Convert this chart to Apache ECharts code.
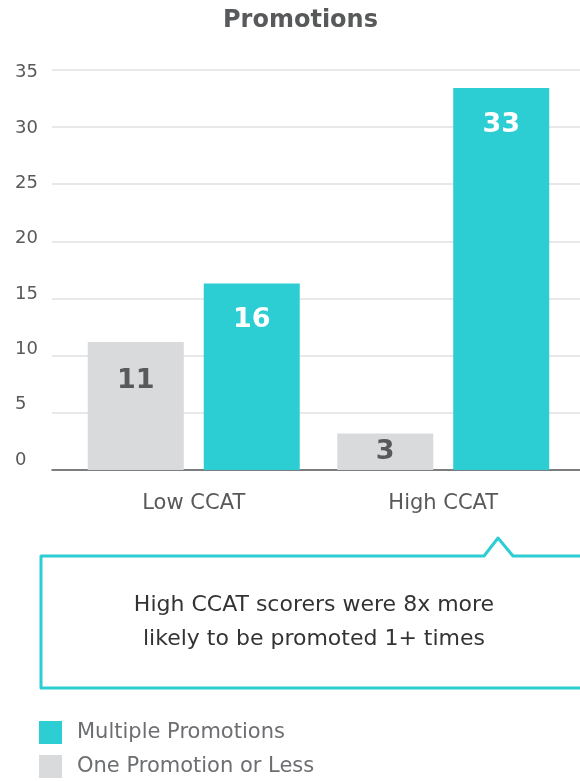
<!DOCTYPE html>
<html>
<head>
<meta charset="utf-8">
<script src="https://cdn.jsdelivr.net/npm/echarts@6/dist/echarts.min.js"></script>
<style>
html,body{margin:0;padding:0;background:#fff;}
#c{width:580px;height:781px;}
</style>
</head>
<body>
<div id="c"></div>
<script>
var categories = ['Low CCAT', 'High CCAT'];
var onePromotion = [11.2, 3.2];
var multiplePromotions = [16.3, 33.4];
var yTicks = [0, 5, 10, 15, 20, 25, 30, 35];
var seriesNames = ['One Promotion or Less', 'Multiple Promotions'];
var noteLines = ['High CCAT scorers were 8x more', 'likely to be promoted 1+ times'];

var FONT = '"DejaVu Sans", sans-serif';
var TEAL = '#2ccdd3';
var GRAY = '#d9dadb';

var chart = echarts.init(document.getElementById('c'), null, {renderer: 'canvas'});

function labelData(vals) {
  return vals.map(function (v) {
    var item = {value: v};
    if (v < 6) item.label = {position: 'inside', distance: 0};
    return item;
  });
}

var option = {
  animation: false,
  backgroundColor: '#fff',
  title: {
    text: 'Promotions',
    left: 223,
    top: 9,
    padding: 0,
    textStyle: {fontFamily: FONT, fontSize: 24, fontWeight: 'bold', color: '#58595b'}
  },
  legend: {
    orient: 'vertical',
    left: 39,
    top: 721,
    padding: 0,
    height: 60,
    itemWidth: 23,
    itemHeight: 23,
    itemGap: 11,
    icon: 'rect',
    data: ['Multiple Promotions', 'One Promotion or Less'],
    textStyle: {fontFamily: FONT, fontSize: 21, color: '#6d6e71', padding: [4, 0, 0, 10]}
  },
  grid: [
    {left: 69, width: 499, top: 69.7, height: 400.3},
    {left: 52, right: 0, top: 69.7, height: 400.3},
    {left: 15, width: 1, top: 72.5, height: 387.5}
  ],
  xAxis: [
    {
      gridIndex: 0, type: 'category', data: categories,
      axisLine: {show: false}, axisTick: {show: false},
      axisLabel: {fontFamily: FONT, fontSize: 21, color: '#58595b', margin: 23}
    },
    {
      gridIndex: 1, type: 'value', min: 0, max: 1,
      axisLine: {show: true, onZero: false, lineStyle: {color: '#58595b', width: 1.5}},
      axisTick: {show: false}, axisLabel: {show: false}, splitLine: {show: false}
    },
    {
      gridIndex: 2, type: 'value', show: false
    }
  ],
  yAxis: [
    {
      gridIndex: 0, type: 'value', min: 0, max: 35, interval: 5,
      axisLabel: {show: false}, axisLine: {show: false}, axisTick: {show: false}, splitLine: {show: false}
    },
    {
      gridIndex: 1, type: 'value', min: 0, max: 35, interval: 5,
      axisLabel: {show: false}, axisLine: {show: false}, axisTick: {show: false},
      splitLine: {show: true, lineStyle: {color: '#e1e1e1', width: 1.5}}
    },
    {
      gridIndex: 2, type: 'category', data: yTicks.map(String),
      boundaryGap: false,
      axisLine: {show: false}, axisTick: {show: false}, splitLine: {show: false},
      axisLabel: {fontFamily: FONT, fontSize: 18, color: '#58595b', align: 'left', margin: 0, interval: 0}
    }
  ],
  series: [
    {
      name: seriesNames[0], type: 'bar', xAxisIndex: 0, yAxisIndex: 0,
      data: labelData(onePromotion),
      barWidth: 96, barGap: '20.8%',
      itemStyle: {color: GRAY},
      label: {
        show: true, position: 'insideTop', distance: 26,
        fontFamily: FONT, fontSize: 27, fontWeight: 'bold', color: '#58595b',
        formatter: function (p) { return Math.round(p.value); }
      }
    },
    {
      name: seriesNames[1], type: 'bar', xAxisIndex: 0, yAxisIndex: 0,
      data: labelData(multiplePromotions),
      barWidth: 96, barGap: '20.8%',
      itemStyle: {color: TEAL},
      label: {
        show: true, position: 'insideTop', distance: 23,
        fontFamily: FONT, fontSize: 27, fontWeight: 'bold', color: '#ffffff',
        formatter: function (p) { return Math.round(p.value); }
      }
    }
  ],
  graphic: [
    {
      type: 'polyline',
      shape: {points: [[590, 556], [513, 556], [498, 538], [484, 556], [41, 556], [41, 688], [590, 688]]},
      style: {stroke: TEAL, lineWidth: 3, fill: null, lineJoin: 'round'},
      silent: true
    },
    {
      type: 'text',
      x: 314, y: 622,
      style: {
        text: noteLines.join('\n'),
        fontFamily: FONT, fontSize: 22, fill: '#333333',
        align: 'center', verticalAlign: 'middle', lineHeight: 34
      },
      silent: true
    }
  ]
};
chart.setOption(option);
</script>
</body>
</html>
